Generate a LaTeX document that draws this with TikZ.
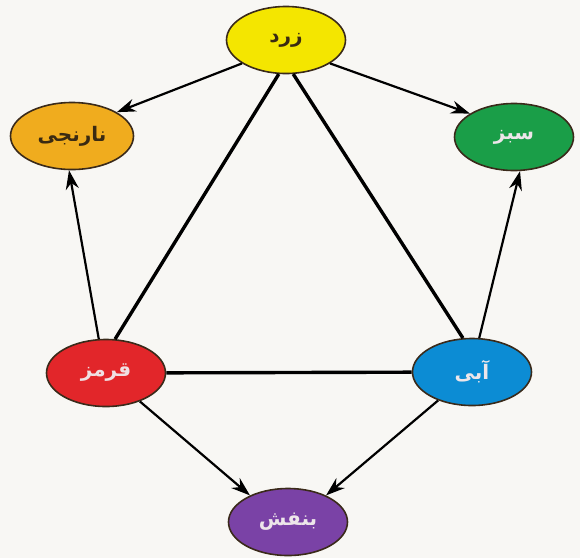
\documentclass[tikz,border=0pt]{standalone}
\usepackage{fontspec}
\usetikzlibrary{shapes.geometric,arrows.meta}
\newfontfamily\arabicfont[Script=Arabic]{DejaVu Sans}
\TeXXeTstate=1
\definecolor{bgc}{HTML}{F8F7F4}
\definecolor{cyel}{HTML}{F4E600}
\definecolor{cora}{HTML}{F0AC1E}
\definecolor{cgre}{HTML}{1A9E48}
\definecolor{cred}{HTML}{E2262A}
\definecolor{cblu}{HTML}{0C8CD4}
\definecolor{cpur}{HTML}{7A42A6}
\definecolor{edgec}{HTML}{3A2A1A}
\definecolor{darktxt}{HTML}{3A2A12}
\definecolor{lighttxt}{HTML}{EDE6EA}
\tikzset{
  colnode/.style={ellipse, draw=edgec, line width=1.6pt, minimum width=119pt, minimum height=67pt, inner sep=0pt, font=\arabicfont\bfseries\fontsize{20}{24}\selectfont},
  tri/.style={line width=3.4pt, black},
  arr/.style={line width=2.2pt, black, -{Stealth[length=19pt,width=13pt]}}
}
\begin{document}
\begin{tikzpicture}[x=1pt,y=-1pt]
\fill[bgc] (0,0) rectangle (580,558);
\useasboundingbox (0,0) rectangle (580,558);
\node[colnode, fill=cyel, text=darktxt] (y) at (286,40) {\beginR زرد\endR};
\node[colnode, fill=cora, text=darktxt, minimum width=123pt] (o) at (72,136) {\beginR نارنجی\endR};
\node[colnode, fill=cgre, text=lighttxt] (g) at (514,137) {\beginR سبز\endR};
\node[colnode, fill=cred, text=lighttxt!85!pink] (r) at (106,373) {\beginR قرمز\endR};
\node[colnode, fill=cblu, text=lighttxt] (b) at (472,372) {\beginR آبی\endR};
\node[colnode, fill=cpur, text=lighttxt] (p) at (288,522) {\beginR بنفش\endR};
\draw[tri] (y.258) -- (r.75);
\draw[tri] (y.282) -- (b.105);
\draw[tri] (r) -- (b);
\draw[arr] (y.208) -- (o.28);
\draw[arr] (y.-28) -- (g.152);
\draw[arr] (r.102) -- (o.-95);
\draw[arr] (b.78) -- (g.-80);
\draw[arr] (r.-40) -- (p.145);
\draw[arr] (b.-140) -- (p.35);
\end{tikzpicture}
\end{document}
